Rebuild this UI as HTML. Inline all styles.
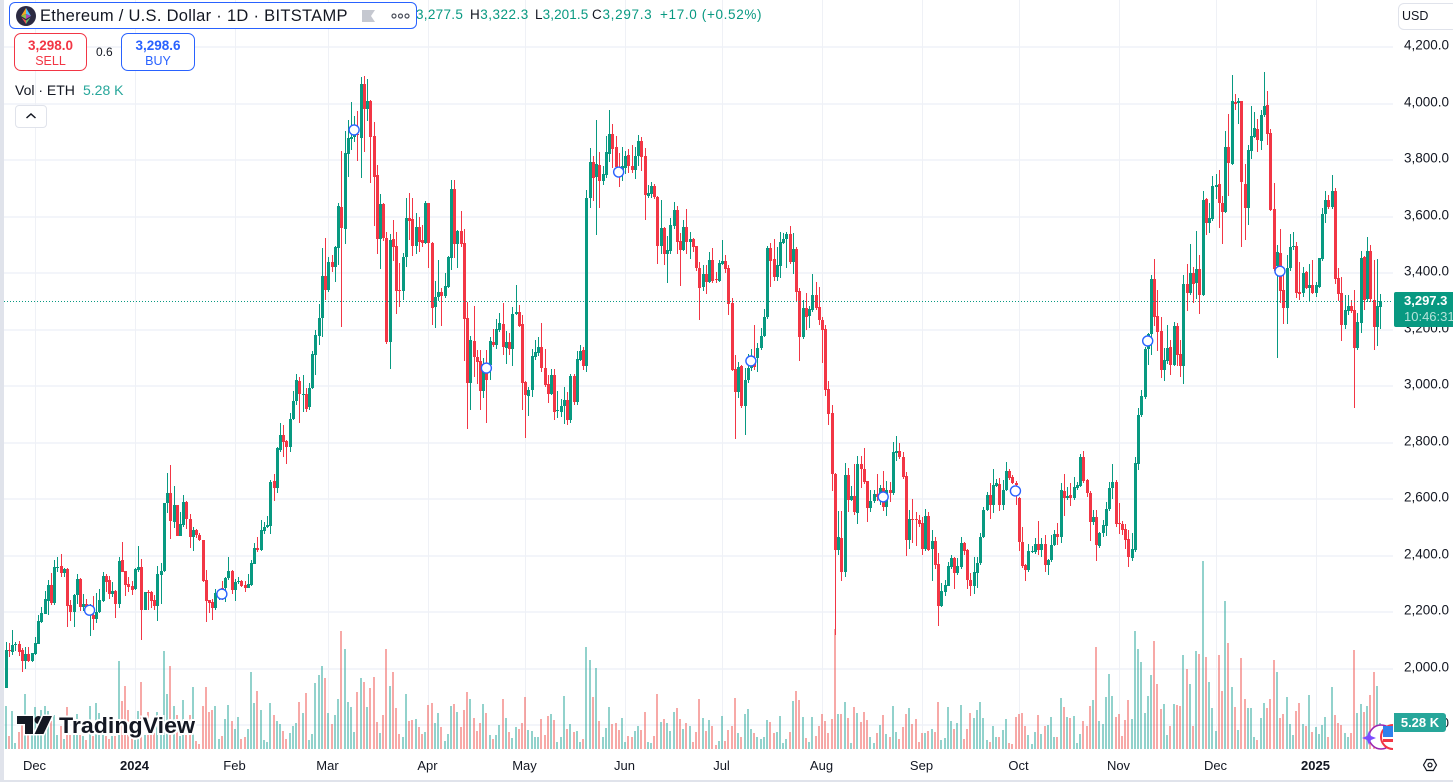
<!DOCTYPE html>
<html lang="en">
<head>
<meta charset="utf-8">
<title>ETH/USD chart</title>
<style>
html,body{margin:0;padding:0;background:#fff;overflow:hidden}
#page{position:relative;width:1453px;height:782px;overflow:hidden;background:#fff;font-family:"Liberation Sans",sans-serif;color:#131722}
#page div,#page span{position:absolute;white-space:nowrap;box-sizing:border-box}
svg{position:absolute;left:0;top:0}
svg text{font-family:"Liberation Sans",sans-serif}
</style>
</head>
<body>
<div id="page">
<svg id="chart" width="1453" height="782" viewBox="0 0 1453 782">
  <defs><clipPath id="pane"><rect x="4" y="0" width="1389" height="750"/></clipPath></defs>
  <g id="grid" shape-rendering="crispEdges"></g>
  <g clip-path="url(#pane)">
    <g id="volumes" shape-rendering="crispEdges"></g>
    <g id="candles" shape-rendering="crispEdges"></g>
    <g id="price-line" shape-rendering="crispEdges"></g>
    <g id="markers"></g>
    <g>
      <circle cx="1381" cy="737" r="12" fill="#fff"/>
      <circle cx="1381" cy="737" r="12" fill="none" stroke="#9c27b0" stroke-width="1.6"/>
      <circle cx="1393" cy="737" r="12" fill="#fff" stroke="#f23645" stroke-width="2"/>
      <rect x="1383" y="726" width="10" height="11" fill="#2f80ed"/>
      <rect x="1383" y="739" width="10" height="3" fill="#f23645"/>
      <path d="M1369 731 L1371 736 L1376 738 L1371 740 L1369 745 L1367 740 L1362 738 L1367 736 Z" fill="#7c4dff"/>
    </g>
  </g>
  <g>
    <path d="M17 716H33V734H25V724H17Z" fill="#131722" stroke="#fff" stroke-width="3" paint-order="stroke"/>
    <circle cx="38.5" cy="720" r="4" fill="#131722"/>
    <path d="M43 716H52L43.5 734H34.5Z" fill="#131722" stroke="#fff" stroke-width="3" paint-order="stroke"/>
    <text x="59" y="733" font-size="22" font-weight="700" fill="#131722" stroke="#fff" stroke-width="4" paint-order="stroke" textLength="136" lengthAdjust="spacingAndGlyphs">TradingView</text>
  </g>
  <g id="price-axis"></g>
  <g id="time-axis"></g>
  <g fill="none" stroke="#131722" stroke-width="1.2">
    <path d="M1423.5 765 L1426.7 759.5 H1433.3 L1436.5 765 L1433.3 770.5 H1426.7 Z"/>
    <circle cx="1430" cy="765" r="2"/>
  </g>
</svg>

<div style="left:0;top:0;width:4px;height:782px;background:#e0e3eb"></div>
<div style="left:0;top:780px;width:1453px;height:2px;background:#e0e3eb"></div>

<div style="left:416px;top:7px;height:16px;width:350px;font-size:13.5px;line-height:16px;color:#089981;overflow:hidden">
  <span style="left:0;top:0;letter-spacing:.3px">3,277.5</span>
  <span style="left:54px;top:0;letter-spacing:.5px"><b style="font-weight:400;color:#131722">H</b>3,322.3</span>
  <span style="left:119px;top:0;letter-spacing:.1px"><b style="font-weight:400;color:#131722">L</b>3,201.5</span>
  <span style="left:176px;top:0;letter-spacing:.7px"><b style="font-weight:400;color:#131722">C</b>3,297.3</span>
  <span style="left:244px;top:0;letter-spacing:.65px">+17.0 (+0.52%)</span>
</div>

<div style="left:9px;top:2px;width:408px;height:27px;border:1px solid #2962ff;border-radius:6px;background:#fff">
  <svg width="22" height="22" style="left:5px;top:2px" viewBox="0 0 22 22">
    <circle cx="11" cy="11" r="10" fill="#2c2a42"/>
    <polygon points="11,3 6,11 11,9" fill="#f5a623"/>
    <polygon points="11,3 16,11 11,9" fill="#4fc3f7"/>
    <polygon points="6,11 11,14 11,9" fill="#8bc34a"/>
    <polygon points="16,11 11,14 11,9" fill="#ab47bc"/>
    <polygon points="6.5,12.5 11,19 11,15.5" fill="#ef5350"/>
    <polygon points="15.5,12.5 11,19 11,15.5" fill="#66bb6a"/>
  </svg>
  <span style="left:30px;top:4px;font-size:16.5px;line-height:18px;letter-spacing:.29px;color:#131722">Ethereum / U.S. Dollar · 1D · BITSTAMP</span>
  <svg width="14" height="12" style="left:352px;top:7px" viewBox="0 0 14 12"><path d="M0 0H13L9 6L13 12H0Z" fill="#c5c8d0"/></svg>
  <svg width="20" height="8" style="left:381px;top:9px" viewBox="0 0 20 8" fill="none" stroke="#4a4e5a" stroke-width="1.2"><circle cx="3" cy="4" r="2"/><circle cx="9.5" cy="4" r="2"/><circle cx="16" cy="4" r="2"/></svg>
</div>

<div style="left:14px;top:33px;width:73px;height:38px;border:1px solid #f23645;border-radius:7px;background:#fff;color:#f23645;text-align:center">
  <span style="left:0;width:71px;top:4px;font-size:13.5px;line-height:15px;font-weight:700">3,298.0</span>
  <span style="left:0;width:71px;top:20px;font-size:12.5px;line-height:14px">SELL</span>
</div>
<span style="left:96px;top:45px;font-size:12px;line-height:14px;color:#131722">0.6</span>
<div style="left:121px;top:33px;width:74px;height:38px;border:1px solid #2962ff;border-radius:7px;background:#fff;color:#2962ff;text-align:center">
  <span style="left:0;width:72px;top:4px;font-size:13.5px;line-height:15px;font-weight:700">3,298.6</span>
  <span style="left:0;width:72px;top:20px;font-size:12.5px;line-height:14px">BUY</span>
</div>

<span style="left:15px;top:82px;font-size:14px;line-height:16px;color:#131722">Vol · ETH</span>
<span style="left:83px;top:82px;font-size:14px;line-height:16px;color:#26a69a">5.28 K</span>
<div style="left:15px;top:105px;width:32px;height:23px;border:1px solid #e0e3eb;border-radius:4px;background:#fff">
  <svg width="12" height="8" style="left:9px;top:6px" viewBox="0 0 12 8"><path d="M1.5 6L6 2L10.5 6" fill="none" stroke="#131722" stroke-width="1.5"/></svg>
</div>

<div style="left:1398px;top:3px;width:60px;height:27px;border:1px solid #e0e3eb;border-radius:6px;background:#fff">
  <span style="left:3px;top:5px;font-size:12.5px;line-height:15px;color:#131722">USD</span>
</div>

<div style="left:1394px;top:292px;width:59px;height:35px;background:#089981;border-radius:2px 0 0 2px;overflow:hidden">
  <span style="left:10px;top:1px;font-size:13px;line-height:16px;color:#fff;font-weight:700">3,297.3</span>
  <span style="left:10px;top:17px;font-size:13px;line-height:15px;color:#b5e3da">10:46:31</span>
</div>
<div style="left:1394px;top:713px;width:52px;height:19px;background:#26a69a;border-radius:0 3px 3px 0;color:#fff;font-size:13px;line-height:19px;text-align:center;font-weight:700">5.28 K</div>
</div>

<script>
const opens = [
1930,2063,2057,2081,2083,2063,2025,2048,2024,2049,
2085,2163,2192,2236,2293,2231,2357,2360,2336,2350,
2222,2198,2258,2314,2216,2225,2200,2186,2173,2199,
2237,2325,2311,2262,2272,2226,2382,2341,2297,2289,
2279,2346,2357,2205,2268,2268,2240,2220,2329,2343,
2582,2618,2517,2575,2467,2505,2587,2525,2463,2488,
2470,2452,2311,2240,2233,2212,2260,2281,2281,2317,
2343,2275,2303,2307,2293,2283,2294,2369,2424,2417,
2484,2498,2502,2661,2636,2771,2824,2804,2783,2880,
2944,3015,2968,2969,2924,2989,3107,3176,3240,3387,
3337,3436,3420,3487,3630,3554,3820,3872,3880,3890,
3876,4066,3978,4007,3882,3744,3517,3642,3520,3153,
3518,3493,3337,3335,3455,3591,3588,3494,3560,3514,
3504,3644,3502,3276,3311,3330,3317,3347,3452,3695,
3500,3546,3504,3238,3009,3157,3101,3086,2980,3075,
3072,3154,3144,3195,3217,3131,3153,3129,3252,3260,
3217,3011,2963,2984,3099,3113,3134,3060,3004,2970,
3036,2909,2907,2925,2948,2877,3034,2942,3090,3125,
3069,3663,3790,3739,3780,3724,3745,3819,3890,3844,
3774,3756,3768,3815,3776,3762,3810,3865,3812,3670,
3677,3706,3668,3494,3556,3465,3475,3564,3621,3511,
3479,3560,3509,3518,3493,3416,3348,3394,3367,3444,
3376,3369,3431,3440,3416,3290,3057,2976,3068,2927,
3019,3060,3085,3095,3131,3175,3241,3486,3447,3382,
3424,3504,3518,3536,3437,3483,3334,3172,3274,3245,
3267,3320,3277,3231,3199,2987,2902,2686,2417,2458,
2340,2683,2594,2608,2549,2721,2704,2661,2567,2590,
2615,2605,2635,2570,2629,2620,2762,2767,2746,2679,
2452,2526,2525,2523,2514,2420,2537,2420,2449,2367,
2219,2270,2291,2358,2387,2337,2358,2442,2417,2310,
2291,2337,2372,2463,2559,2612,2576,2644,2651,2576,
2629,2695,2674,2653,2600,2444,2364,2346,2411,2410,
2438,2417,2438,2364,2380,2435,2472,2464,2627,2602,
2612,2600,2636,2644,2746,2665,2619,2517,2534,2432,
2476,2502,2562,2635,2657,2511,2509,2491,2456,2390,
2418,2721,2895,2957,3128,3181,3376,3245,3192,3054,
3086,3134,3072,3210,3111,3068,3359,3328,3396,3363,
3410,3320,3658,3576,3589,3703,3712,3644,3615,3843,
3784,4004,3998,4006,3713,3626,3830,3880,3907,3866,
3957,3992,3892,3624,3423,3467,3337,3275,3414,3489,
3493,3329,3328,3402,3345,3355,3328,3349,3447,3606,
3656,3631,3688,3380,3325,3213,3264,3281,3266,3133,
3222,3453,3304,3475,3302,3207,3277];
const highs = [
2091,2089,2134,2090,2095,2070,2072,2073,2053,2108,
2187,2216,2272,2311,2335,2382,2391,2403,2354,2354,
2240,2262,2333,2319,2261,2242,2225,2253,2264,2278,
2340,2332,2326,2304,2275,2391,2444,2342,2320,2307,
2354,2431,2385,2270,2275,2273,2258,2360,2370,2585,
2688,2718,2644,2577,2553,2612,2590,2543,2500,2490,
2476,2454,2346,2241,2242,2278,2270,2306,2323,2391,
2346,2313,2323,2310,2307,2331,2382,2441,2462,2523,
2517,2537,2665,2686,2780,2868,2860,2806,2901,2980,
3040,3030,3036,2989,3007,3121,3196,3288,3486,3520,
3455,3461,3493,3644,3829,3900,3939,4003,3953,3972,
4092,4095,4084,4010,3933,3780,3676,3645,3544,3535,
3585,3541,3432,3467,3662,3679,3662,3609,3597,3567,
3653,3646,3507,3369,3443,3343,3399,3458,3727,3727,
3548,3617,3553,3296,3174,3281,3125,3125,3095,3125,
3172,3199,3233,3255,3290,3192,3184,3276,3355,3286,
3249,3014,2995,3127,3160,3170,3222,3128,3036,3056,
3056,2980,2951,2995,2977,3040,3040,3122,3142,3137,
3691,3839,3812,3939,3825,3776,3883,3975,3925,3883,
3824,3842,3831,3837,3851,3845,3886,3880,3839,3709,
3719,3713,3671,3656,3562,3529,3591,3648,3635,3538,
3585,3624,3544,3520,3494,3438,3426,3426,3471,3485,
3402,3445,3514,3461,3426,3308,3107,3084,3072,3060,
3111,3130,3214,3149,3202,3269,3494,3503,3517,3491,
3542,3540,3544,3564,3538,3488,3343,3302,3326,3281,
3394,3365,3347,3243,3213,3016,2930,2690,2555,2555,
2724,2706,2643,2721,2750,2750,2777,2663,2629,2629,
2686,2647,2697,2661,2659,2800,2820,2795,2765,2694,
2559,2598,2553,2541,2535,2562,2553,2488,2464,2405,
2299,2311,2376,2399,2393,2387,2464,2444,2420,2334,
2393,2393,2476,2570,2624,2653,2704,2668,2671,2665,
2730,2703,2682,2661,2606,2500,2366,2437,2430,2458,
2520,2461,2470,2385,2470,2488,2511,2653,2686,2641,
2653,2674,2659,2757,2767,2667,2627,2559,2559,2482,
2523,2588,2659,2720,2665,2582,2521,2509,2488,2476,
2747,2921,2983,3137,3185,3390,3447,3337,3243,3131,
3213,3160,3225,3219,3160,3390,3429,3500,3418,3545,
3461,3688,3662,3647,3741,3748,3762,3670,3901,3960,
4098,4031,4018,4008,3783,3851,3989,3969,3943,3975,
4109,4042,3907,3715,3497,3553,3396,3461,3536,3541,
3508,3438,3418,3406,3429,3443,3367,3452,3626,3689,
3674,3744,3697,3414,3385,3320,3320,3302,3337,3255,
3475,3458,3524,3497,3443,3446,3322];
const lows = [
1930,2039,2045,2060,2040,1986,1997,2022,2022,2045,
2083,2160,2190,2187,2222,2222,2338,2323,2323,2144,
2167,2144,2226,2202,2200,2190,2114,2134,2160,2193,
2234,2270,2243,2252,2176,2212,2338,2254,2270,2258,
2275,2338,2098,2203,2205,2210,2205,2167,2226,2340,
2548,2456,2496,2465,2465,2500,2490,2424,2413,2460,
2448,2302,2163,2193,2169,2205,2240,2240,2234,2310,
2261,2236,2295,2285,2267,2281,2291,2366,2410,2415,
2474,2495,2474,2590,2620,2765,2747,2721,2765,2877,
2930,2868,2906,2906,2912,2987,3036,3142,3172,3302,
3330,3400,3367,3426,3207,3500,3738,3833,3860,3795,
3735,3827,3937,3717,3565,3466,3413,3510,3146,3059,
3440,3252,3276,3302,3420,3513,3458,3465,3473,3490,
3500,3416,3213,3204,3300,3211,3308,3343,3408,3449,
3414,3490,3086,2845,2912,3028,3005,2912,2954,2868,
3018,3135,3130,3188,3107,3075,3107,3068,3249,3205,
2912,2814,2892,2960,3090,3105,3048,2995,2938,2965,
2877,2885,2889,2863,2859,2865,2930,2930,3085,3054,
3048,3629,3652,3532,3629,3709,3733,3792,3770,3760,
3703,3723,3748,3753,3752,3730,3778,3759,3585,3662,
3662,3660,3429,3465,3426,3363,3465,3555,3465,3352,
3475,3465,3447,3473,3406,3231,3335,3323,3361,3361,
3361,3365,3425,3397,3249,3052,2810,2954,2919,2824,
3007,3050,3054,3048,3125,3170,3236,3349,3370,3370,
3379,3500,3416,3430,3394,3296,3087,3165,3196,3202,
3260,3268,3213,3078,2963,2860,2627,2116,2400,2307,
2323,2553,2590,2541,2509,2635,2650,2517,2553,2585,
2590,2575,2556,2539,2588,2612,2733,2738,2670,2397,
2420,2440,2432,2500,2399,2415,2413,2307,2350,2148,
2215,2255,2290,2350,2279,2330,2350,2400,2278,2255,
2261,2281,2365,2460,2555,2527,2547,2640,2556,2559,
2625,2665,2650,2576,2415,2352,2307,2338,2405,2403,
2400,2393,2340,2328,2375,2430,2435,2441,2539,2595,
2574,2595,2630,2640,2655,2606,2449,2505,2378,2423,
2464,2468,2555,2596,2500,2472,2470,2419,2358,2379,
2410,2700,2889,2950,3072,3107,3211,3123,3027,3016,
3075,3036,3068,3069,3030,3004,3264,3320,3290,3305,
3252,3315,3532,3540,3580,3660,3558,3500,3610,3671,
3780,3975,3925,3491,3514,3567,3801,3875,3827,3833,
3950,3851,3617,3405,3098,3292,3217,3217,3405,3480,
3310,3302,3311,3340,3296,3322,3311,3345,3440,3573,
3625,3625,3358,3300,3158,3199,3250,3255,2921,3125,
3186,3266,3296,3296,3125,3139,3201];
const closes = [
2063,2060,2081,2084,2057,2025,2048,2024,2051,2087,
2166,2193,2243,2293,2231,2357,2358,2334,2350,2220,
2198,2258,2314,2216,2225,2214,2205,2173,2199,2240,
2325,2305,2262,2272,2226,2378,2340,2293,2287,2275,
2350,2356,2205,2268,2266,2238,2220,2332,2343,2583,
2618,2521,2575,2467,2508,2587,2525,2463,2488,2470,
2452,2307,2236,2228,2212,2264,2265,2252,2319,2343,
2275,2304,2307,2291,2284,2295,2371,2424,2417,2488,
2498,2504,2657,2636,2777,2824,2800,2783,2881,2944,
3020,2968,2970,2916,2989,3110,3177,3240,3387,3337,
3436,3420,3489,3635,3558,3822,3874,3880,3890,3885,
4066,3978,4006,3880,3738,3519,3642,3520,3153,3514,
3491,3335,3335,3453,3591,3581,3494,3560,3508,3504,
3644,3502,3275,3311,3330,3317,3351,3454,3695,3500,
3546,3501,3236,3009,3160,3101,3081,2980,3075,3020,
3157,3144,3199,3219,3137,3153,3127,3252,3260,3211,
3009,2965,2985,3102,3117,3134,3060,3001,2970,3036,
2906,2912,2925,2948,2877,3034,2940,3093,3122,3069,
3662,3790,3735,3782,3724,3748,3826,3890,3837,3774,
3760,3775,3812,3776,3762,3812,3865,3809,3674,3681,
3706,3665,3494,3556,3465,3479,3567,3621,3509,3479,
3560,3509,3518,3490,3416,3346,3394,3367,3444,3369,
3373,3433,3440,3412,3288,3054,2976,3066,2927,3019,
3060,3080,3065,3131,3175,3243,3486,3440,3382,3426,
3507,3518,3536,3437,3483,3330,3172,3274,3242,3269,
3320,3274,3230,3196,2983,2898,2685,2417,2462,2340,
2683,2594,2608,2550,2721,2703,2659,2567,2590,2615,
2605,2635,2570,2629,2620,2764,2767,2745,2677,2452,
2526,2524,2523,2509,2420,2537,2417,2449,2364,2219,
2272,2293,2360,2387,2337,2360,2442,2415,2312,2291,
2338,2372,2463,2559,2612,2576,2647,2653,2576,2629,
2697,2673,2655,2647,2446,2362,2346,2412,2415,2438,
2417,2438,2364,2382,2435,2472,2464,2629,2602,2607,
2600,2639,2646,2746,2661,2618,2517,2534,2435,2476,
2504,2562,2635,2657,2509,2508,2488,2452,2392,2420,
2724,2895,2962,3128,3180,3376,3243,3190,3054,3089,
3133,3072,3210,3107,3068,3359,3328,3396,3359,3410,
3320,3656,3576,3591,3705,3709,3644,3615,3843,3788,
4006,3997,4006,3721,3626,3833,3882,3910,3868,3957,
3989,3890,3620,3412,3472,3335,3275,3414,3491,3493,
3328,3322,3396,3345,3355,3328,3355,3449,3606,3656,
3631,3688,3376,3323,3213,3266,3281,3264,3133,3223,
3449,3302,3475,3304,3207,3281,3297];
const volumesK = [
8.5,2.5,7.6,1.1,3.3,4.8,11.0,2.8,2.8,8.3,
2.8,7.8,8.6,7.5,5.5,6.8,2.8,4.5,2.0,8.3,
2.8,6.5,7.0,2.8,2.5,1.7,8.5,2.5,9.2,7.1,
2.8,2.5,2.0,2.5,2.5,17.6,9.6,12.5,7.8,3.5,
1.8,7.6,13.3,2.8,7.3,2.8,3.1,7.3,2.8,19.6,
11.0,16.6,8.5,6.8,2.5,9.8,2.8,6.8,12.3,1.5,
1.0,8.5,12.3,7.3,7.8,8.6,2.0,2.5,6.0,8.8,
5.5,4.0,6.3,2.0,2.3,4.0,15.4,9.1,11.6,7.7,
1.8,1.4,9.1,6.7,5.6,5.0,3.6,2.0,3.2,4.6,
5.2,9.4,7.2,11.2,1.8,3.0,13.2,14.8,16.6,14.2,
7.2,5.0,6.8,10.0,23.6,20.0,9.4,8.4,3.4,11.4,
14.2,13.4,8.4,12.2,14.4,5.4,3.2,6.8,20.0,12.6,
15.4,8.2,3.0,2.4,11.0,5.6,5.8,6.0,4.4,3.0,
3.4,8.8,9.2,5.2,7.2,4.4,1.6,3.0,8.6,9.0,
7.4,4.4,7.8,11.4,10.0,6.2,3.6,5.2,9.0,7.2,
2.8,2.0,2.8,4.8,10.0,6.2,3.4,2.2,4.4,4.0,
5.2,10.4,3.8,3.6,2.4,2.4,6.0,2.8,6.6,7.0,
5.8,1.4,2.4,10.6,4.0,5.0,3.4,3.6,1.4,2.0,
20.4,17.8,10.4,16.2,5.6,2.4,4.2,8.4,5.0,5.2,
3.8,6.2,1.4,2.6,2.4,3.6,4.6,3.8,7.4,1.4,
1.2,2.6,11.0,5.4,6.0,5.2,3.6,7.4,8.2,6.0,
4.0,5.2,4.6,1.4,3.4,10.0,6.2,3.6,5.8,4.6,
0.8,1.6,6.6,1.6,3.8,4.6,10.2,3.2,2.4,7.0,
8.0,4.0,3.2,2.4,2.0,2.4,5.8,5.4,3.2,3.4,
6.6,1.2,2.0,3.4,9.6,11.6,9.8,6.4,2.2,1.4,
6.4,2.6,4.6,7.0,5.6,3.2,6.0,24.0,7.0,7.0,
9.4,6.2,1.2,8.4,7.2,5.4,7.4,5.8,2.4,1.2,
3.2,4.8,6.8,3.0,2.4,8.6,3.4,2.0,4.4,7.0,
8.2,5.0,6.0,1.4,3.2,3.2,3.6,4.0,3.4,9.4,
1.8,2.2,8.4,5.6,4.0,5.2,8.8,2.0,4.0,7.2,
6.2,7.8,9.4,6.2,1.8,1.4,4.6,2.4,2.4,3.8,
6.0,1.2,1.0,6.4,7.0,7.2,4.6,2.8,1.0,3.4,
6.8,3.0,4.6,4.8,6.4,2.4,2.4,10.2,8.4,6.4,
6.2,6.6,1.2,3.0,5.6,4.6,8.6,9.8,20.4,5.6,
5.0,10.4,15.0,10.6,6.4,7.0,2.6,5.8,9.8,6.0,
23.6,20.0,17.4,7.2,10.6,14.8,21.6,13.0,8.0,9.0,
2.8,4.6,9.0,8.8,8.6,18.8,16.0,13.0,4.6,19.6,
19.0,37.6,18.4,13.4,8.2,3.6,18.8,11.6,29.6,21.2,
12.4,8.4,3.8,18.2,10.0,8.2,8.2,2.4,1.8,6.2,
9.2,8.2,10.0,17.8,15.4,6.2,7.0,10.4,5.0,2.8,
7.6,9.2,5.0,4.6,10.8,3.4,4.4,3.0,4.8,6.4,
2.4,12.4,6.8,5.2,4.8,3.2,2.4,3.2,19.8,7.2,
9.0,7.4,8.6,10.8,15.4,12.6,5.28];

const timeLabels = ["Dec","2024","Feb","Mar","Apr","May","Jun","Jul","Aug","Sep","Oct","Nov","Dec","2025"];
const timeBarIndex = [9,40,71,100,131,161,192,222,253,284,314,345,375,406];
const priceTicks = [4200,4000,3800,3600,3400,3200,3000,2800,2600,2400,2200,2000,1800];
const markerBarIndex = [26,67,108,149,190,231,272,313,354,395];
const markerPrice = [2204,2261,3904,3061,3755,3086,2605,2626,3157,3404];
const lastPrice = 3297.3;

const NS = "http://www.w3.org/2000/svg";
const UP = "#089981", DOWN = "#f23645";
function xAxis(i){ return 6.3 + 3.226 * i; }
function yAxis(p){ return 46.3 + (4200 - p) * 0.2825; }
function volAxis(v){ return v * 5; }
const VOL_BASE = 749;
function el(name, attrs, parent){
  const n = document.createElementNS(NS, name);
  for (const k in attrs) n.setAttribute(k, attrs[k]);
  parent.appendChild(n);
  return n;
}
function fmt(p){ return p.toLocaleString("en-US",{minimumFractionDigits:1,maximumFractionDigits:1}); }

const gridG = document.getElementById("grid");
const priceAxisG = document.getElementById("price-axis");
const timeAxisG = document.getElementById("time-axis");
priceTicks.forEach(function(p){
  const y = Math.round(yAxis(p));
  const g = el("rect",{x:4,width:1389,y:y,height:2,fill:"#f3f5fa"},gridG);
  
  
  const t = el("text",{x:1449,y:y+3.5,"text-anchor":"end","font-size":13.5,fill:"#131722"},priceAxisG);
  t.textContent = fmt(p);
  
  
});
timeLabels.forEach(function(label,k){
  const x = Math.floor(xAxis(timeBarIndex[k]));
  const g = el("rect",{x:x,width:1,y:0,height:749,fill:"#eff1f6"},gridG);
  
  
  const bold = /^\d/.test(label);
  const t = el("text",{x:x-0.5,y:770,"text-anchor":"middle","font-size":13,fill:"#131722","font-weight":bold?700:400},timeAxisG);
  t.textContent = label;
  
  
});

const volG = document.getElementById("volumes");
volumesK.forEach(function(v,i){
  const up = closes[i] >= opens[i];
  const h = Math.round(volAxis(v));
  const r = el("rect",{x:Math.floor(xAxis(i))-1,y:VOL_BASE-h,width:2,height:h,fill:up?"#26a69a":"#ef5350","fill-opacity":0.5},volG);
  
  
});

const candleG = document.getElementById("candles");
opens.forEach(function(o,i){
  const c = closes[i], up = c >= o, col = up ? UP : DOWN;
  const px = Math.floor(xAxis(i));
  const top = Math.round(yAxis(Math.max(o,c))), bot = Math.round(yAxis(Math.min(o,c)));
  const hi = Math.round(yAxis(highs[i])), lo = Math.round(yAxis(lows[i]));
  const w = el("rect",{x:px,y:hi,width:1,height:Math.max(1,lo-hi),fill:col},candleG);
  
  
  const b = el("rect",{x:px-1,y:top,width:3,height:Math.max(1,bot-top),fill:col},candleG);
  
  
});

const lineG = document.getElementById("price-line");
const ly = Math.round(yAxis(lastPrice));
const pl = el("line",{x1:4,x2:1393,y1:ly+0.5,y2:ly+0.5,stroke:UP,"stroke-width":1,"stroke-dasharray":"1 2"},lineG);



const markG = document.getElementById("markers");
markerBarIndex.forEach(function(idx,k){
  const cx = xAxis(idx) - 0.6, cy = yAxis(markerPrice[k]);
  const m = el("circle",{cx:cx,cy:cy,r:5,fill:"#fff",stroke:"#2962ff","stroke-width":1.4},markG);
  
  
});
</script>
</body>
</html>
